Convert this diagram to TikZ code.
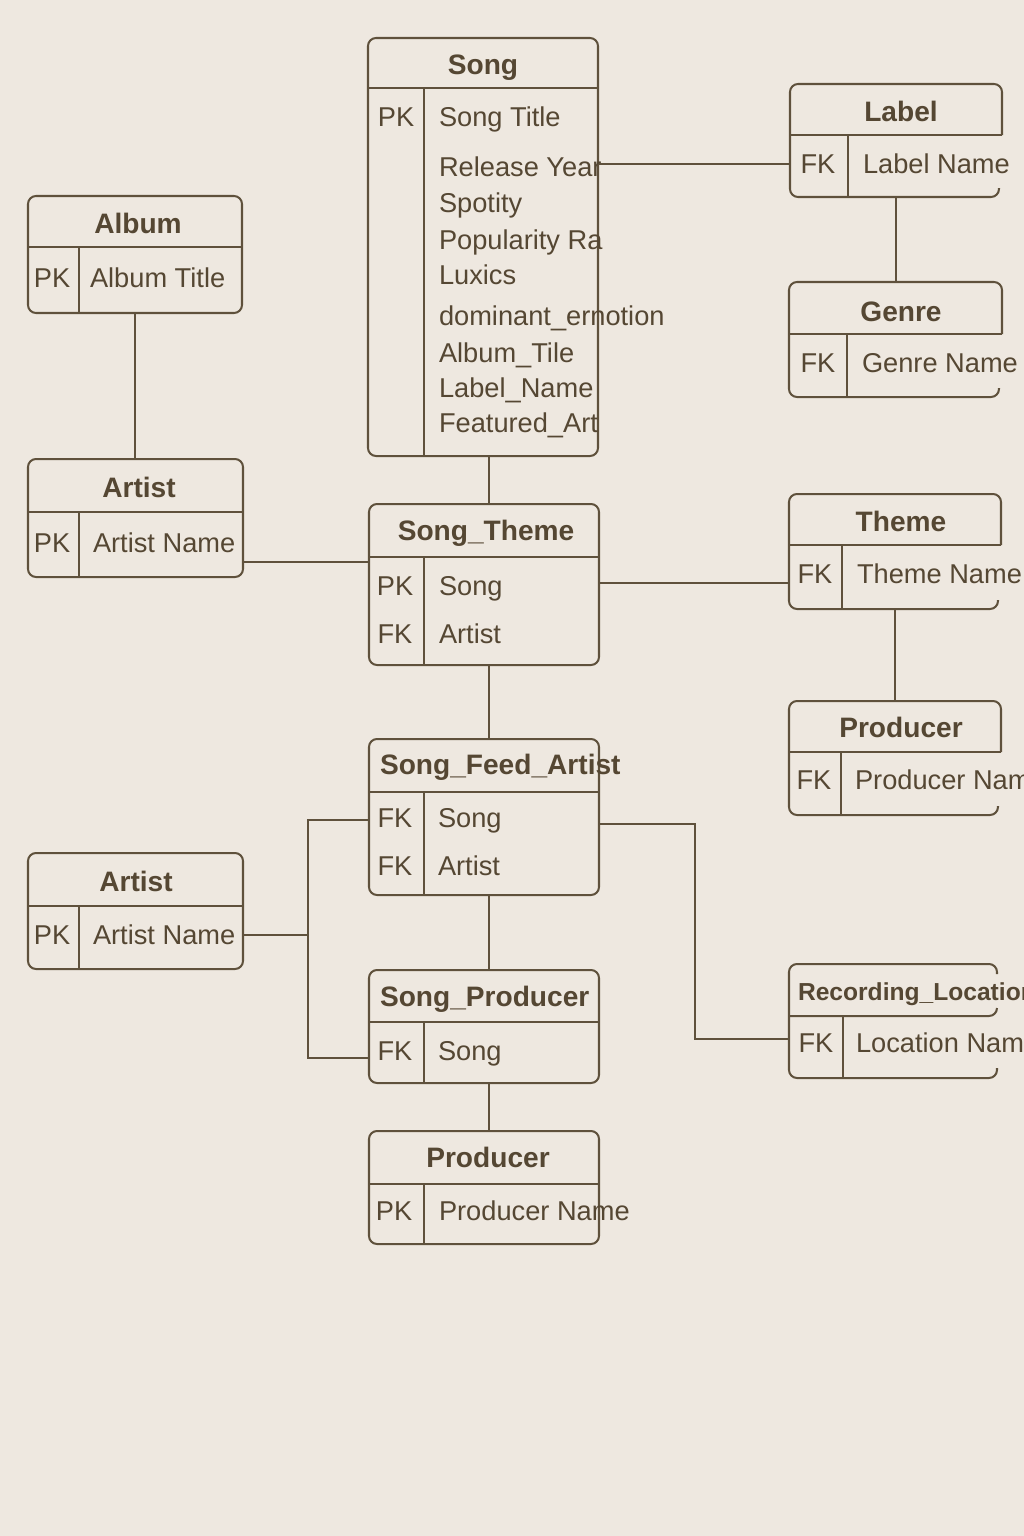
\documentclass[tikz,border=0pt]{standalone}
\usepackage{fontspec}
\setmainfont{Liberation Sans}
\usetikzlibrary{fit}
\definecolor{ink}{HTML}{5F513C}
\definecolor{inktext}{HTML}{554733}
\definecolor{paper}{HTML}{EEE8E0}

\begin{document}
\begin{tikzpicture}[x=0.02cm,y=-0.02cm,line width=1.15pt,color=ink,
  entity/.style={draw,rounded corners=1.6mm,inner sep=0pt},
  frame/.style={inner sep=0pt},
  ttl/.style={font=\bfseries\fontsize{16}{18}\selectfont,text=inktext,inner sep=0pt,text height=11.5pt,text depth=0pt},
  key/.style={font=\fontsize{15.5}{18}\selectfont,text=inktext,inner sep=0pt,text height=11pt,text depth=0pt},
  attr/.style={key,anchor=west}]

\useasboundingbox (0,0) rectangle (1024,1536);
\clip (0,0) rectangle (1024,1536);
\fill[paper] (0,0) rectangle (1024,1536);

% Song
\node[entity,fit={(368,38) (598,456)}] (song) {};
\draw (368,88) -- (598,88);
\draw (424,88) -- (424,456);
\node[ttl] (song-t) at (483,64) {Song};
\node[key] (song-pk) at (396,117) {PK};
\node[attr] (song-a0) at (438,117) {Song Title};
\foreach \a/\y [count=\i] in {Release Year/167,Spotity/203,Popularity Ra/240,Luxics/275,dominant\_ernotion/316,Album\_Tile/353,Label\_Name/388,Featured\_Art/423}
  \node[attr] (song-a\i) at (438,\y) {\a};

% Label
\node[frame,fit={(790,84) (1002,197)}] (label) {};
\draw[rounded corners=1.6mm] (999,188) |- (790,197) |- (1002,84) -- (1002,135);
\draw (790,135) -- (1002,135);
\draw (848,135) -- (848,197);
\node[ttl] (label-t) at (901,111) {Label};
\node[key] (label-k) at (818,164) {FK};
\node[attr] (label-a) at (862,164) {Label Name};

% Genre
\node[frame,fit={(789,282) (1002,397)}] (genre) {};
\draw[rounded corners=1.6mm] (999,388) |- (789,397) |- (1002,282) -- (1002,334);
\draw (789,334) -- (1002,334);
\draw (847,334) -- (847,397);
\node[ttl] (genre-t) at (901,311) {Genre};
\node[key] (genre-k) at (818,363) {FK};
\node[attr] (genre-a) at (861,363) {Genre Name};

% Album
\node[entity,fit={(28,196) (242,313)}] (album) {};
\draw (28,247) -- (242,247);
\draw (79,247) -- (79,313);
\node[ttl] (album-t) at (138,223) {Album};
\node[key] (album-k) at (52,278) {PK};
\node[attr] (album-a) at (89,278) {Album Title};

% Artist (top)
\node[entity,fit={(28,459) (243,577)}] (artist1) {};
\draw (28,512) -- (243,512);
\draw (79,512) -- (79,577);
\node[ttl] (artist1-t) at (139,487) {Artist};
\node[key] (artist1-k) at (52,543) {PK};
\node[attr] (artist1-a) at (92,543) {Artist Name};

% Song_Theme
\node[entity,fit={(369,504) (599,665)}] (stheme) {};
\draw (369,557) -- (599,557);
\draw (424,557) -- (424,665);
\node[ttl] (stheme-t) at (486,530) {Song\_Theme};
\node[key] (stheme-k1) at (395,586) {PK};
\node[attr] (stheme-a1) at (438,586) {Song};
\node[key] (stheme-k2) at (395,634) {FK};
\node[attr] (stheme-a2) at (438,634) {Artist};

% Theme
\node[frame,fit={(789,494) (1001,609)}] (theme) {};
\draw[rounded corners=1.6mm] (998,600) |- (789,609) |- (1001,494) -- (1001,545);
\draw (789,545) -- (1001,545);
\draw (842,545) -- (842,609);
\node[ttl] (theme-t) at (901,521) {Theme};
\node[key] (theme-k) at (815,574) {FK};
\node[attr] (theme-a) at (856,574) {Theme Name};

% Producer (right)
\node[frame,fit={(789,701) (1001,815)}] (prodr) {};
\draw[rounded corners=1.6mm] (998,806) |- (789,815) |- (1001,701) -- (1001,752);
\draw (789,752) -- (1001,752);
\draw (841,752) -- (841,815);
\node[ttl] (prodr-t) at (901,727) {Producer};
\node[key] (prodr-k) at (814,780) {FK};
\node[attr] (prodr-a) at (854,780) {Producer Name};

% Song_Feed_Artist
\node[entity,fit={(369,739) (599,895)}] (sfa) {};
\draw (369,792) -- (599,792);
\draw (424,792) -- (424,895);
\node[ttl,anchor=west] (sfa-t) at (379,764) {Song\_Feed\_Artist};
\node[key] (sfa-k1) at (395,818) {FK};
\node[attr] (sfa-a1) at (437,818) {Song};
\node[key] (sfa-k2) at (395,866) {FK};
\node[attr] (sfa-a2) at (437,866) {Artist};

% Artist (bottom)
\node[entity,fit={(28,853) (243,969)}] (artist2) {};
\draw (28,906) -- (243,906);
\draw (79,906) -- (79,969);
\node[ttl] (artist2-t) at (136,881) {Artist};
\node[key] (artist2-k) at (52,935) {PK};
\node[attr] (artist2-a) at (92,935) {Artist Name};

% Song_Producer
\node[entity,fit={(369,970) (599,1083)}] (sp) {};
\draw (369,1022) -- (599,1022);
\draw (424,1022) -- (424,1083);
\node[ttl,anchor=west] (sp-t) at (379,996) {Song\_Producer};
\node[key] (sp-k) at (395,1051) {FK};
\node[attr] (sp-a) at (437,1051) {Song};

% Producer (bottom)
\node[entity,fit={(369,1131) (599,1244)}] (prodb) {};
\draw (369,1184) -- (599,1184);
\draw (424,1184) -- (424,1244);
\node[ttl] (prodb-t) at (488,1157) {Producer};
\node[key] (prodb-k) at (394,1211) {PK};
\node[attr] (prodb-a) at (438,1211) {Producer Name};

% Recording_Location
\node[frame,fit={(789,964) (1000,1078)}] (recloc) {};
\draw[rounded corners=1.6mm] (997,974) |- (789,964) |- (997,1078) -- (997,1068);
\draw[rounded corners=1.6mm] (789,1016) -| (997,1008);
\draw (843,1016) -- (843,1078);
\node[ttl,anchor=west,font=\bfseries\fontsize{14}{17}\selectfont] (recloc-t) at (797,990) {Recording\_Location};
\node[key] (recloc-k) at (816,1043) {FK};
\node[attr] (recloc-a) at (855,1043) {Location Name};

% links
\draw (song.east |- label-k) -- (label.west |- label-k);
\draw (label.south) -- (label.south |- genre.north);
\draw (album.south) -- (album.south |- artist1.north);
\draw (artist1.east |- 0,562) -- (stheme.west |- 0,562);
\draw (song.south -| 489,0) -- (stheme.north -| 489,0);
\draw (stheme.east |- 0,583) -- (theme.west |- 0,583);
\draw (theme.south) -- (theme.south |- prodr.north);
\draw (stheme.south -| 489,0) -- (sfa.north -| 489,0);
\draw (sfa.south -| 489,0) -- (sp.north -| 489,0);
\draw (sp.south -| 489,0) -- (prodb.north -| 489,0);
\coordinate (jn) at (308,935);
\draw (artist2.east |- jn) -- (jn);
\draw (sfa.west |- 0,820) -| (jn) |- (sp.west |- 0,1058);
\coordinate (rl) at (695,1039);
\draw (sfa.east |- 0,824) -| (rl) -- (recloc.west |- rl);
\end{tikzpicture}
\end{document}
